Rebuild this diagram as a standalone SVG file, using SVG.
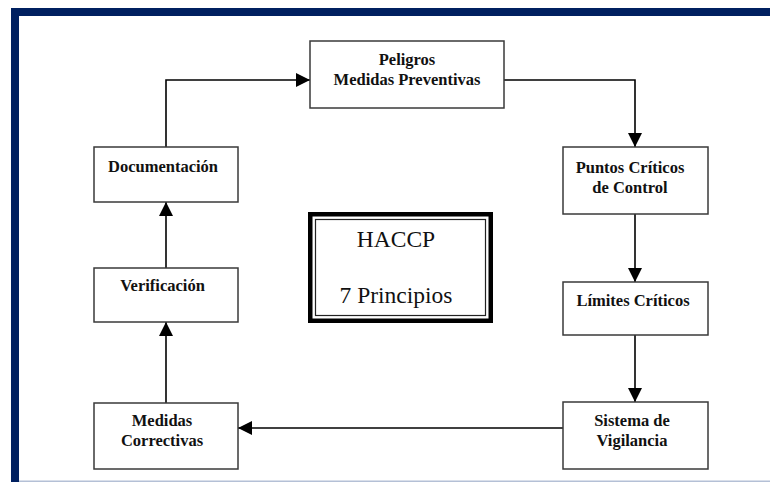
<svg xmlns="http://www.w3.org/2000/svg" width="770" height="482" viewBox="0 0 770 482">
<defs>
<style>
.box{fill:#fff;stroke:#3a3a3a;stroke-width:1.5}
.lbl{font-family:"Liberation Serif","Times New Roman",serif;font-weight:bold;font-size:16.5px;fill:#111;text-anchor:middle}
.big{font-family:"Liberation Serif","Times New Roman",serif;font-size:23.5px;fill:#111;text-anchor:middle}
.conn{fill:none;stroke:#000;stroke-width:1.6}
</style>
<marker id="ah" markerUnits="userSpaceOnUse" markerWidth="14" markerHeight="14" refX="14" refY="7" orient="auto">
<path d="M0,0 L14,7 L0,14 z" fill="#000"/>
</marker>
</defs>
<rect x="0" y="0" width="770" height="482" fill="#fff"/>
<g id="frame">
<rect x="11" y="8" width="759" height="8" fill="#002060"/>
<rect x="11" y="8" width="8" height="474" fill="#002060"/>
<rect x="19" y="480.5" width="751" height="1.5" fill="#b4c0d6"/>
</g>
<g id="connectors">
<path class="conn" d="M166,147 V80 H310" marker-end="url(#ah)"/>
<path class="conn" d="M504,80 H635 V147" marker-end="url(#ah)"/>
<path class="conn" d="M635,214 V282" marker-end="url(#ah)"/>
<path class="conn" d="M635,335 V402" marker-end="url(#ah)"/>
<path class="conn" d="M563,428 H238" marker-end="url(#ah)"/>
<path class="conn" d="M166,403 V322" marker-end="url(#ah)"/>
<path class="conn" d="M166,268 V202" marker-end="url(#ah)"/>
</g>
<g id="peligros">
<rect class="box" x="310" y="41" width="194" height="67"/>
<text class="lbl" x="407" y="65">Peligros</text>
<text class="lbl" x="407" y="85">Medidas Preventivas</text>
</g>
<g id="puntos">
<rect class="box" x="563" y="147" width="145" height="67"/>
<text class="lbl" x="630" y="173">Puntos Críticos</text>
<text class="lbl" x="630" y="193">de Control</text>
</g>
<g id="limites">
<rect class="box" x="563" y="282" width="145" height="53"/>
<text class="lbl" x="633" y="306">Límites Críticos</text>
</g>
<g id="sistema">
<rect class="box" x="563" y="402" width="145" height="67"/>
<text class="lbl" x="632" y="426">Sistema de</text>
<text class="lbl" x="632" y="446">Vigilancia</text>
</g>
<g id="medidas">
<rect class="box" x="94" y="403" width="144" height="66"/>
<text class="lbl" x="162" y="426">Medidas</text>
<text class="lbl" x="162" y="446">Correctivas</text>
</g>
<g id="verificacion">
<rect class="box" x="94" y="268" width="144" height="54"/>
<text class="lbl" x="162.5" y="291">Verificación</text>
</g>
<g id="documentacion">
<rect class="box" x="94" y="147" width="144" height="55"/>
<text class="lbl" x="163" y="172">Documentación</text>
</g>
<g id="haccp">
<rect x="310.25" y="214.25" width="180.5" height="106.5" fill="#fff" stroke="#000" stroke-width="4.5"/>
<rect x="315.5" y="219.5" width="170" height="96" fill="none" stroke="#222" stroke-width="1.2"/>
<text class="big" x="396" y="247">HACCP</text>
<text class="big" x="396" y="303">7 Principios</text>
</g>
</svg>
